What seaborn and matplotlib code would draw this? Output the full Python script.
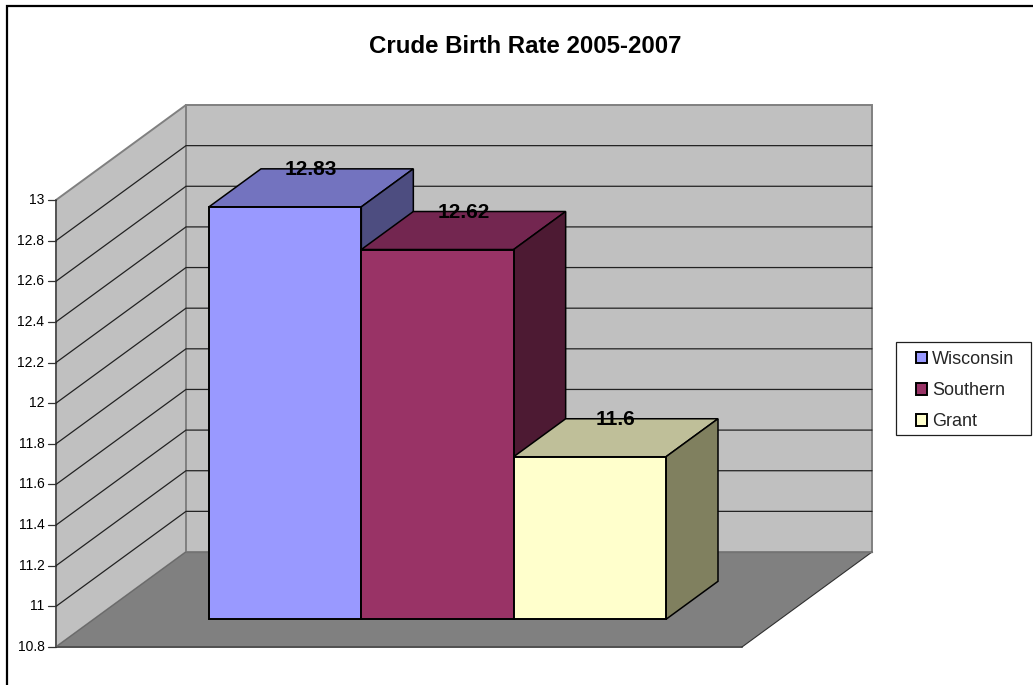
"""Crude birth rate chart, drawn as a faux 3D column chart."""

import matplotlib

matplotlib.use("Agg")
import matplotlib.pyplot as plt
import pandas as pd
import seaborn as sns
from matplotlib.patches import Polygon, Rectangle

regions = ["Wisconsin", "Southern", "Grant"]
birth_rates = [12.83, 12.62, 11.6]
value_labels = ["12.83", "12.62", "11.6"]
tick_values = [10.8, 11, 11.2, 11.4, 11.6, 11.8, 12, 12.2, 12.4, 12.6, 12.8, 13]
tick_labels = ["10.8", "11", "11.2", "11.4", "11.6", "11.8", "12", "12.2", "12.4", "12.6", "12.8", "13"]
bar_colors = ["#9999FF", "#993366", "#FFFFCC"]
top_colors = ["#7373BF", "#732650", "#BFBF99"]
side_colors = ["#4D4D80", "#4D1A33", "#80805F"]

WIDTH, HEIGHT = 1033, 685
Y_MIN, Y_MAX = 10.8, 13
# chart geometry in pixels
FRONT_LEFT, FRONT_RIGHT, FRONT_BOTTOM, FRONT_TOP = 56, 742, 647, 200
WALL_DX, WALL_DY = 130, -95
BAR_LEFT, BAR_RIGHT, BAR_BOTTOM = 209, 666, 619.3
BAR_DX, BAR_DY = 52, -38

sns.set_theme(style="white")
plt.rcParams["font.family"] = ["Liberation Sans", "DejaVu Sans"]

fig = plt.figure(figsize=(WIDTH / 100, HEIGHT / 100), dpi=100, facecolor="white")

chart = fig.add_axes([0, 0, 1, 1])
chart.set(xlim=(0, WIDTH), ylim=(HEIGHT, 0))
chart.axis("off")


def front_y(value):
    """Pixel height of a value on the front edge of the left wall."""
    return FRONT_BOTTOM - (value - Y_MIN) * (FRONT_BOTTOM - FRONT_TOP) / (Y_MAX - Y_MIN)


back_left = FRONT_LEFT + WALL_DX
back_right = FRONT_RIGHT + WALL_DX
floor_back = FRONT_BOTTOM + WALL_DY
top_back = FRONT_TOP + WALL_DY

chart.add_patch(
    Polygon(
        [(FRONT_LEFT, FRONT_TOP), (back_left, top_back), (back_left, floor_back), (FRONT_LEFT, FRONT_BOTTOM)],
        facecolor="#C0C0C0",
        edgecolor="#808080",
        lw=1.4,
    )
)
chart.add_patch(
    Rectangle(
        (back_left, top_back),
        back_right - back_left,
        floor_back - top_back,
        facecolor="#C0C0C0",
        edgecolor="#808080",
        lw=1.4,
    )
)
chart.add_patch(
    Polygon(
        [(FRONT_LEFT, FRONT_BOTTOM), (back_left, floor_back), (back_right, floor_back), (FRONT_RIGHT, FRONT_BOTTOM)],
        facecolor="#808080",
        edgecolor="none",
    )
)
chart.plot([FRONT_LEFT, FRONT_RIGHT], [FRONT_BOTTOM, FRONT_BOTTOM], color="#505050", lw=1.4)
chart.plot([FRONT_RIGHT, back_right], [FRONT_BOTTOM, floor_back], color="#303030", lw=0.8)
chart.plot([FRONT_LEFT, back_left], [FRONT_BOTTOM, floor_back], color="#6A6A6A", lw=0.8)
chart.plot([back_left, back_right], [floor_back, floor_back], color="#737373", lw=1.0)
chart.plot([FRONT_LEFT, FRONT_LEFT], [FRONT_TOP, FRONT_BOTTOM], color="#555555", lw=1.4)

for value, label in zip(tick_values, tick_labels):
    y = front_y(value)
    if Y_MIN < value < Y_MAX:
        chart.plot(
            [FRONT_LEFT, back_left, back_right],
            [y, y + WALL_DY, y + WALL_DY],
            color="#222222",
            lw=0.9,
            solid_joinstyle="miter",
        )
    chart.plot([FRONT_LEFT - 8, FRONT_LEFT], [y, y], color="#333333", lw=0.9)
    chart.text(44.5, y, label, ha="right", va="center", fontsize=10, color="black")

chart.text(525, 46, "Crude Birth Rate 2005-2007", ha="center", va="center", fontsize=17.3, fontweight="bold", color="black")

# outer chart frame, right and bottom edges fall outside the image
chart.plot([7, 7, WIDTH], [HEIGHT, 6, 6], color="black", lw=1.6, solid_joinstyle="miter")

bars_df = pd.DataFrame({"region": regions, "rate": birth_rates})

ax = fig.add_axes(
    [
        BAR_LEFT / WIDTH,
        1 - BAR_BOTTOM / HEIGHT,
        (BAR_RIGHT - BAR_LEFT) / WIDTH,
        (FRONT_BOTTOM - FRONT_TOP) / HEIGHT,
    ]
)
sns.barplot(
    data=bars_df,
    x="region",
    y="rate",
    hue="region",
    hue_order=regions,
    palette=bar_colors,
    saturation=1,
    width=1,
    dodge=False,
    edgecolor="black",
    linewidth=1.4,
    legend=False,
    ax=ax,
)
ax.set(xlim=(-0.5, 2.5), ylim=(Y_MIN, Y_MAX), xlabel="", ylabel="", xticks=[], yticks=[])
ax.patch.set_visible(False)
sns.despine(ax=ax, left=True, bottom=True)
fig.canvas.draw()

to_chart = ax.transData + chart.transData.inverted()
bar_patches = [patch for patch in ax.patches if patch.get_height() > 0]
for i, (bar, rate, text) in enumerate(zip(bar_patches, birth_rates, value_labels)):
    # bars start at the axis floor rather than at zero
    bar.set_y(Y_MIN)
    bar.set_height(rate - Y_MIN)
    bar.set_clip_on(False)
    bar.set_zorder(2 * i + 3)
    left = bar.get_x()
    right = left + bar.get_width()
    (x0, y0), (x1, y1) = to_chart.transform([(left, rate), (right, Y_MIN)])
    top_face = [(x0, y0), (x0 + BAR_DX, y0 + BAR_DY), (x1 + BAR_DX, y0 + BAR_DY), (x1, y0)]
    side_face = [(x1, y0), (x1 + BAR_DX, y0 + BAR_DY), (x1 + BAR_DX, y1 + BAR_DY), (x1, y1)]
    for face, color in ((top_face, top_colors[i]), (side_face, side_colors[i])):
        ax.add_patch(
            Polygon(
                face,
                facecolor=color,
                edgecolor="black",
                lw=1.1,
                transform=chart.transData,
                clip_on=False,
                zorder=2 * i + 2,
            )
        )
    ax.text(
        (x0 + x1) / 2 + BAR_DX / 2,
        y0 + BAR_DY + 0.5,
        text,
        ha="center",
        va="center",
        fontsize=15,
        fontweight="bold",
        color="black",
        transform=chart.transData,
        clip_on=False,
        zorder=20,
    )

# legend box and entries
legend_ax = fig.add_axes([0, 0, 1, 1], label="legend")
legend_ax.set(xlim=(0, WIDTH), ylim=(HEIGHT, 0))
legend_ax.axis("off")
legend_ax.add_patch(Rectangle((896, 342), 135, 93, facecolor="white", edgecolor="#202020", lw=0.9))
legend_ax.legend(
    bar_patches,
    regions,
    loc="upper left",
    bbox_to_anchor=(916 / WIDTH, 1 - 351 / HEIGHT),
    bbox_transform=fig.transFigure,
    frameon=False,
    fontsize=13,
    handlelength=0.62,
    handleheight=0.62,
    handletextpad=0.25,
    labelspacing=0.78,
    borderpad=0,
    borderaxespad=0,
)

fig.savefig("out.png", dpi=100)
